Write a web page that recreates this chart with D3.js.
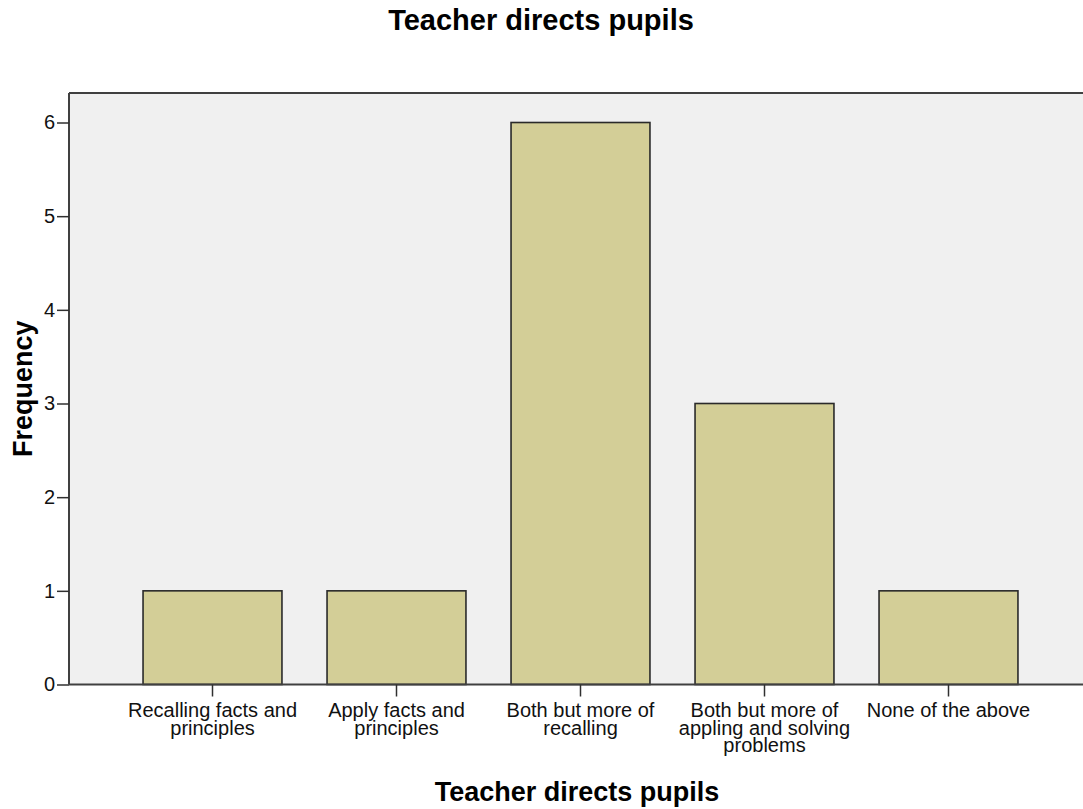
<!DOCTYPE html>
<html>
<head>
<meta charset="utf-8">
<script src="https://cdn.jsdelivr.net/npm/d3@7/dist/d3.min.js"></script>
<style>
  html, body { margin: 0; padding: 0; background: #ffffff; }
  svg { display: block; font-family: "Liberation Sans", Arial, sans-serif; }
</style>
</head>
<body>
<svg id="chart" width="1083" height="809"></svg>
<script>
// ---- data ----
const categories = [
  "Recalling facts and principles",
  "Apply facts and principles",
  "Both but more of recalling",
  "Both but more of appling and solving problems",
  "None of the above"
];
const tickLabelLines = [
  ["Recalling facts and", "principles"],
  ["Apply facts and", "principles"],
  ["Both but more of", "recalling"],
  ["Both but more of", "appling and solving", "problems"],
  ["None of the above"]
];
const frequencies = [1, 1, 6, 3, 1];
const yTicks = [0, 1, 2, 3, 4, 5, 6];
const chartTitle = "Teacher directs pupils";
const xTitle = "Teacher directs pupils";
const yTitle = "Frequency";

// ---- layout ----
const svg = d3.select("#chart");
const plot = { left: 69, right: 1092, top: 93, bottom: 684.5 };

const x = d3.scaleBand()
  .domain(categories)
  .range([plot.left, plot.right])
  .paddingInner(0.245)
  .paddingOuter(0.4024);

const y = d3.scaleLinear()
  .domain([0, 6.315])
  .range([plot.bottom, plot.top]);

// plot background
svg.append("rect")
  .attr("x", plot.left).attr("y", plot.top)
  .attr("width", plot.right - plot.left)
  .attr("height", plot.bottom - plot.top)
  .attr("fill", "#f0f0f0");

// top border
svg.append("line")
  .attr("x1", plot.left).attr("x2", plot.right)
  .attr("y1", plot.top).attr("y2", plot.top)
  .attr("stroke", "#404040").attr("stroke-width", 2);

// bars
svg.append("g").selectAll("rect")
  .data(frequencies)
  .join("rect")
  .attr("x", (d, i) => x(categories[i]))
  .attr("y", d => y(d))
  .attr("width", x.bandwidth())
  .attr("height", d => y(0) - y(d))
  .attr("fill", "#d3ce97")
  .attr("stroke", "#2a2a2a")
  .attr("stroke-width", 1.6);

// y axis
const yAxis = d3.axisLeft(y).tickValues(yTicks).tickSize(12).tickPadding(2).tickFormat(d3.format("d"));
const gy = svg.append("g")
  .attr("transform", `translate(${plot.left},0)`)
  .call(yAxis);
gy.select(".domain").attr("stroke", "#404040").attr("stroke-width", 2)
  .attr("d", `M0,${plot.top}V${plot.bottom}`);
gy.selectAll(".tick line").attr("stroke", "#303030").attr("stroke-width", 1.5);
gy.selectAll(".tick text")
  .attr("font-size", 20)
  .attr("fill", "#111")
  .attr("font-family", "'Liberation Sans', Arial, sans-serif");

// x axis
const xAxis = d3.axisBottom(x).tickSize(12).tickFormat("");
const gx = svg.append("g")
  .attr("transform", `translate(0,${plot.bottom})`)
  .call(xAxis);
gx.select(".domain").attr("stroke", "#404040").attr("stroke-width", 2)
  .attr("d", `M${plot.left},0H${plot.right}`);
gx.selectAll(".tick line").attr("stroke", "#303030").attr("stroke-width", 1.5);
gx.selectAll(".tick text").remove();

gx.selectAll(".tick").each(function(d, i) {
  const t = d3.select(this).append("text")
    .attr("text-anchor", "middle")
    .attr("font-size", 20)
    .attr("fill", "#111")
    .attr("font-family", "'Liberation Sans', Arial, sans-serif");
  tickLabelLines[i].forEach((line, j) => {
    t.append("tspan")
      .attr("x", 0)
      .attr("y", 32.5 + j * 17.5)
      .text(line);
  });
});

// titles
svg.append("text")
  .attr("x", 541).attr("y", 30)
  .attr("text-anchor", "middle")
  .attr("font-size", 29).attr("font-weight", "bold")
  .attr("fill", "#000")
  .text(chartTitle);

svg.append("text")
  .attr("x", 577).attr("y", 801)
  .attr("text-anchor", "middle")
  .attr("font-size", 27).attr("font-weight", "bold")
  .attr("fill", "#000")
  .text(xTitle);

svg.append("text")
  .attr("transform", `translate(32,${(plot.top + plot.bottom) / 2}) rotate(-90)`)
  .attr("text-anchor", "middle")
  .attr("font-size", 27).attr("font-weight", "bold")
  .attr("fill", "#000")
  .text(yTitle);
</script>
</body>
</html>
